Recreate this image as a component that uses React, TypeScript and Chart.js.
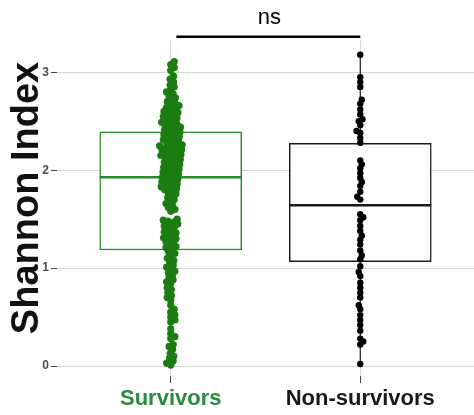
import React, { useEffect, useRef } from "react";
import { Chart, registerables } from "chart.js";

Chart.register(...registerables);

// ---------- data ----------
const categories = ["Survivors", "Non-survivors"];
const categoryColors = ["#2a8a3f", "#1a1a1a"];
const pointColors = ["#1b7c12", "#000000"];
const boxColors = ["#2a8a2a", "#1a1a1a"];

const survivors = [
  3.11, 3.08, 3.05, 3.02, 2.96, 2.93, 2.9, 2.87, 2.85, 2.82, 2.8, 2.78, 2.76, 2.74,
  2.72, 2.7, 2.69, 2.67, 2.66, 2.64, 2.63, 2.62, 2.6, 2.59, 2.58, 2.57, 2.55, 2.54,
  2.53, 2.52, 2.5, 2.49, 2.48, 2.47, 2.46, 2.45, 2.44, 2.43, 2.42, 2.41, 2.4, 2.39,
  2.38, 2.37, 2.36, 2.35, 2.34, 2.33, 2.32, 2.31, 2.3, 2.29, 2.28, 2.27, 2.26, 2.25,
  2.25, 2.24, 2.23, 2.22, 2.21, 2.21, 2.2, 2.19, 2.18, 2.17, 2.16, 2.15, 2.15, 2.14,
  2.13, 2.12, 2.11, 2.1, 2.09, 2.08, 2.07, 2.06, 2.05, 2.04, 2.03, 2.02, 2.01, 2.0,
  1.99, 1.98, 1.97, 1.96, 1.95, 1.94, 1.93, 1.92, 1.91, 1.9, 1.89, 1.88, 1.87, 1.86,
  1.85, 1.84, 1.83, 1.82, 1.81, 1.8, 1.79, 1.77, 1.76, 1.74, 1.72, 1.7, 1.68, 1.66,
  1.64, 1.62, 1.6, 1.58, 1.5, 1.49, 1.48, 1.47, 1.45, 1.44, 1.43, 1.42, 1.4, 1.38,
  1.37, 1.36, 1.35, 1.33, 1.31, 1.3, 1.29, 1.27, 1.26, 1.24, 1.22, 1.21, 1.2, 1.17,
  1.15, 1.13, 1.1, 1.08, 1.06, 1.03, 1.01, 0.99, 0.97, 0.95, 0.93, 0.9, 0.88, 0.86,
  0.84, 0.8, 0.78, 0.75, 0.72, 0.7, 0.67, 0.62, 0.58, 0.55, 0.52, 0.5, 0.47, 0.45,
  0.38, 0.33, 0.3, 0.28, 0.22, 0.2, 0.17, 0.13, 0.1, 0.08, 0.05, 0.03, 0.01,
];

const nonSurvivors = [
  3.18, 2.95, 2.9, 2.85, 2.72, 2.68, 2.62, 2.57, 2.52, 2.5, 2.46, 2.4, 2.38, 2.33,
  2.28, 2.1, 2.06, 2.02, 1.97, 1.92, 1.88, 1.84, 1.78, 1.73, 1.7, 1.55, 1.52, 1.49,
  1.43, 1.38, 1.33, 1.29, 1.24, 1.18, 1.13, 1.09, 1.02, 0.96, 0.92, 0.85, 0.8, 0.75,
  0.7, 0.62, 0.58, 0.52, 0.47, 0.42, 0.36, 0.28, 0.25, 0.22, 0.02,
];

const boxQ1 = [1.185, 1.065];
const boxMedian = [1.927, 1.641];
const boxQ3 = [2.393, 2.275];
const whiskerLow = [0.0, 0.0];
const whiskerHigh = [3.11, 3.18];

const yTicks = [0, 1, 2, 3];
const yAxisTitle = "Shannon Index";
const significanceLabel = "ns";

// ---------- layout helpers ----------
const FONT = "'Liberation Sans', Arial, Helvetica, sans-serif";
const PX_PER_X = 190;
const PX_PER_Y = 97.9;

function swarmOffsets(values: number[], diam: number): number[] {
  const idx = values.map((_, i) => i).sort((a, b) => values[a] - values[b]);
  const placed: { x: number; y: number }[] = [];
  const out = new Array(values.length).fill(0);
  for (const i of idx) {
    const y = values[i] * PX_PER_Y;
    const near = placed.filter((p) => Math.abs(p.y - y) < diam);
    const cands = [0];
    for (const p of near) {
      const dx = Math.sqrt(diam * diam - (p.y - y) * (p.y - y));
      cands.push(p.x + dx, p.x - dx);
    }
    const pref = placed.length % 2 === 0 ? 1 : -1;
    cands.sort((a, b) => {
      const d = Math.abs(a) - Math.abs(b);
      if (Math.abs(d) > 0.35) return d;
      return pref > 0 ? b - a : a - b;
    });
    let chosen = 0;
    for (const c of cands) {
      if (near.every((p) => (p.x - c) ** 2 + (p.y - y) ** 2 >= diam * diam - 1e-6)) {
        chosen = c;
        break;
      }
    }
    placed.push({ x: chosen, y });
    out[i] = chosen / PX_PER_X;
  }
  return out;
}

const annotationPlugin = {
  id: "annotations",
  afterDraw(chart: any) {
    const { ctx, chartArea, scales } = chart;
    const xs = scales.x;
    ctx.save();
    // significance bracket
    const by = chartArea.top - 3.3;
    ctx.strokeStyle = "#000";
    ctx.lineWidth = 2.5;
    ctx.beginPath();
    ctx.moveTo(xs.getPixelForValue(1.03), by);
    ctx.lineTo(xs.getPixelForValue(2), by);
    ctx.stroke();
    ctx.fillStyle = "#000";
    ctx.font = `22px ${FONT}`;
    ctx.textAlign = "center";
    ctx.textBaseline = "alphabetic";
    ctx.fillText(significanceLabel, xs.getPixelForValue(1.52), 24);
    // y axis title
    ctx.translate(38, 198);
    ctx.rotate(-Math.PI / 2);
    ctx.fillStyle = "#111";
    ctx.font = `bold 38px ${FONT}`;
    ctx.textAlign = "center";
    ctx.textBaseline = "alphabetic";
    ctx.fillText(yAxisTitle, 0, 0);
    ctx.restore();
  },
};

export default function App() {
  const ref = useRef<HTMLCanvasElement | null>(null);

  useEffect(() => {
    if (!ref.current) return;
    const sOff = swarmOffsets(survivors, 4.6);
    const nOff = swarmOffsets(nonSurvivors, 4.2);

    const chart = new Chart(ref.current, {
      type: "scatter",
      data: {
        datasets: [
          {
            type: "line",
            data: [
              { x: 1, y: whiskerLow[0] },
              { x: 1, y: whiskerHigh[0] },
            ],
            borderColor: boxColors[0],
            borderWidth: 1.2,
            pointRadius: 0,
            order: 6,
          } as any,
          {
            type: "line",
            data: [
              { x: 2, y: whiskerLow[1] },
              { x: 2, y: whiskerHigh[1] },
            ],
            borderColor: boxColors[1],
            borderWidth: 1.2,
            pointRadius: 0,
            order: 6,
          } as any,
          {
            type: "bar",
            data: [
              { x: 1, y: [boxQ1[0], boxQ3[0]] },
              { x: 2, y: [boxQ1[1], boxQ3[1]] },
            ],
            backgroundColor: "#ffffff",
            borderColor: boxColors,
            borderWidth: 1.5,
            borderSkipped: false,
            barThickness: 142,
            order: 5,
          } as any,
          {
            type: "scatter",
            data: [
              { x: 1, y: boxMedian[0] },
              { x: 2, y: boxMedian[1] },
            ],
            pointStyle: "line",
            pointRadius: 71,
            borderColor: boxColors,
            borderWidth: 2.5,
            order: 4,
          } as any,
          {
            type: "scatter",
            data: nonSurvivors.map((v, i) => ({ x: 2 + nOff[i], y: v })),
            backgroundColor: pointColors[1],
            borderWidth: 0,
            pointRadius: 3.2,
            order: 2,
          },
          {
            type: "scatter",
            data: survivors.map((v, i) => ({ x: 1 + sOff[i], y: v })),
            backgroundColor: pointColors[0],
            borderWidth: 0,
            pointRadius: 3.6,
            order: 1,
          },
        ],
      },
      options: {
        animation: false,
        responsive: false,
        maintainAspectRatio: false,
        layout: { autoPadding: false, padding: { top: 40, left: 0, right: 0, bottom: 0 } },
        plugins: { legend: { display: false }, tooltip: { enabled: false } },
        scales: {
          x: {
            type: "linear",
            min: 0.4,
            max: 2.6,
            offset: false,
            afterBuildTicks: (s: any) => {
              s.ticks = [1, 2].map((v) => ({ value: v }));
            },
            afterFit: (s: any) => {
              s.height = 39;
              s.paddingLeft = 0;
              s.paddingRight = 0;
            },
            ticks: {
              callback: (v: any) => categories[Number(v) - 1],
              color: (c: any) => categoryColors[c.index] || "#000",
              font: { family: FONT, size: 22, weight: "bold" },
              padding: 3,
              maxRotation: 0,
              autoSkip: false,
            },
            grid: { offset: false, color: "#d6d6d6", lineWidth: 1, tickLength: 7, tickColor: "#444" },
            border: { display: false },
          },
          y: {
            type: "linear",
            min: -0.102,
            max: 3.33,
            beginAtZero: false,
            afterBuildTicks: (s: any) => {
              s.ticks = yTicks.map((v) => ({ value: v }));
            },
            afterFit: (s: any) => {
              s.width = 57;
              s.paddingTop = 0;
              s.paddingBottom = 0;
            },
            ticks: {
              color: "#4d4d4d",
              font: { family: FONT, size: 12, weight: "bold" },
              padding: 2,
            },
            grid: { color: "#d6d6d6", lineWidth: 1, tickLength: 6, tickColor: "#444" },
            border: { display: false },
          },
        },
      },
      plugins: [annotationPlugin],
    } as any);
    return () => chart.destroy();
  }, []);

  return (
    <div style={{ position: "fixed", left: 0, top: 0, width: 474, height: 415, background: "#fff" }}>
      <canvas ref={ref} width={474} height={415} />
    </div>
  );
}
